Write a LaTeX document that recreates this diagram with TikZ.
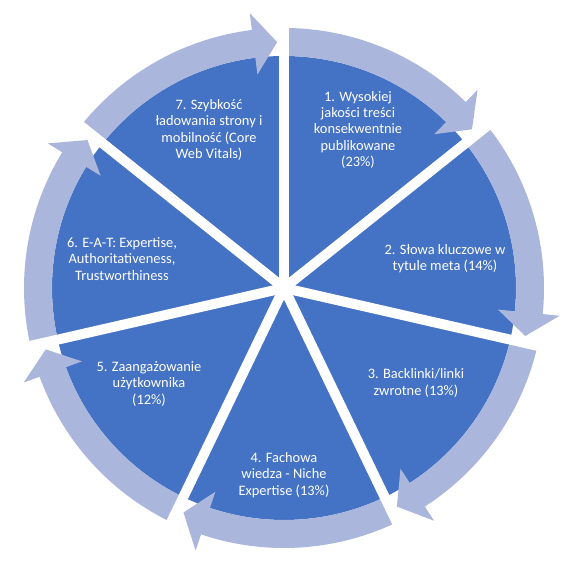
\documentclass[tikz,border=0pt]{standalone}
\usepackage{fontspec}
\setmainfont{Carlito}
\usepackage{tikz}
\usetikzlibrary{calc}
\definecolor{pieblue}{RGB}{68,114,196}
\definecolor{ringblue}{RGB}{170,182,220}
\tikzset{
  piefill/.style={fill=pieblue},
  ringfill/.style={fill=ringblue},
  sepline/.style={draw=white,line width=0.2cm},
  lbl/.style={align=center,text=white,inner sep=0pt,font=\fontsize{8.2}{9.2}\selectfont}
}
\newcommand{\ringarrow}[1]{%
  \pgfmathsetmacro{\tipang}{#1-51.4286+1.6}%
  \pgfmathsetmacro{\headang}{\tipang+5.5}%
  \fill[ringfill] (#1:232) arc[start angle=#1,end angle=\headang,radius=232]
    -- (\headang:215) -- (\tipang:246) -- (\headang:277) -- (\headang:260)
    arc[start angle=\headang,end angle=#1,radius=260] -- cycle;}

\begin{document}
\begin{tikzpicture}[x=0.02cm,y=0.02cm]
  \useasboundingbox (-284,-285) rectangle (286,288);
  \coordinate (hub) at (0,0);
  \fill[piefill] (hub) circle[radius=232];

  \ringarrow{90} \ringarrow{38.5714} \ringarrow{-12.8571} \ringarrow{-64.2857}
  \ringarrow{-115.7143} \ringarrow{-167.1429} \ringarrow{141.4286}

  \draw[sepline] (hub) -- (90:290);
  \draw[sepline] (hub) -- (38.5714:290);
  \draw[sepline] (hub) -- (-12.8571:290);
  \draw[sepline] (hub) -- (-64.2857:290);
  \draw[sepline] (hub) -- (-115.7143:290);
  \draw[sepline] (hub) -- (-167.1429:290);
  \draw[sepline] (hub) -- (141.4286:290);

  \node[lbl] (quality) at (74,158) {1. Wysokiej\\jakości treści\\konsekwentnie\\publikowane\\(23\%)};
  \node[lbl] (keywords) at (161,29) {2. Słowa kluczowe w\\tytule meta (14\%)};
  \node[lbl] (backlinks) at (132,-95) {3. Backlinki/linki\\zwrotne (13\%)};
  \node[lbl] (niche) at (0,-187) {4. Fachowa\\wiedza - Niche\\Expertise (13\%)};
  \node[lbl] (engage) at (-135,-96) {5. Zaangażowanie\\użytkownika\\(12\%)};
  \node[lbl] (eat) at (-162,29) {6. E-A-T: Expertise,\\Authoritativeness,\\Trustworthiness};
  \node[lbl] (speed) at (-75,158) {7. Szybkość\\ładowania strony i\\mobilność (Core\\Web Vitals)};
\end{tikzpicture}
\end{document}
